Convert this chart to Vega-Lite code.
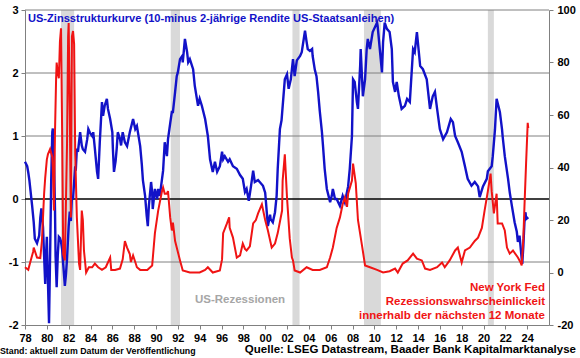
{
  "$schema": "https://vega.github.io/schema/vega-lite/v6.json",
  "width": 524,
  "height": 315,
  "autosize": {"type": "none"},
  "padding": {"left": 25, "top": 10, "right": 31, "bottom": 33},
  "background": "white",
  "config": {
    "view": {"stroke": null},
    "font": "Liberation Sans, Arial",
    "axisX": {"labelOverlap": false, "tickCount": 30}
  },
  "datasets": {
    "rec": [
      {"s": 1981.3, "e": 1982.5},
      {"s": 1991.35, "e": 1992.2},
      {"s": 2002.5, "e": 2003.15},
      {"s": 2009.05, "e": 2010.6},
      {"s": 2020.4, "e": 2020.95}
    ],
    "grid": [{"g": -1}, {"g": 1}, {"g": 2}, {"g": 3}],
    "blue": [
      {"t":1978.0,"v":0.59},{"t":1978.2,"v":0.52},{"t":1978.3,"v":0.42},{"t":1978.4,"v":0.3},{"t":1978.65,"v":-0.1},
      {"t":1978.8,"v":-0.37},{"t":1978.9,"v":-0.63},{"t":1979.1,"v":-0.7},{"t":1979.3,"v":-0.58},{"t":1979.4,"v":-0.3},
      {"t":1979.5,"v":-0.15},{"t":1979.65,"v":-0.45},{"t":1979.75,"v":-0.9},{"t":1979.85,"v":-1.35},{"t":1979.9,"v":-1.0},
      {"t":1980.0,"v":-0.6},{"t":1980.1,"v":-1.3},{"t":1980.2,"v":-1.97},{"t":1980.3,"v":-0.9},{"t":1980.4,"v":0.3},
      {"t":1980.5,"v":1.06},{"t":1980.55,"v":1.12},{"t":1980.65,"v":0.7},{"t":1980.75,"v":-0.2},{"t":1980.8,"v":-0.9},
      {"t":1980.9,"v":-1.4},{"t":1981.0,"v":-0.9},{"t":1981.1,"v":-0.6},{"t":1981.2,"v":-0.62},{"t":1981.3,"v":-0.68},
      {"t":1981.4,"v":-0.8},{"t":1981.55,"v":-1.15},{"t":1981.65,"v":-1.38},{"t":1981.75,"v":-1.2},{"t":1981.85,"v":-0.95},
      {"t":1981.95,"v":-0.6},{"t":1982.0,"v":-0.43},{"t":1982.1,"v":-0.2},{"t":1982.2,"v":-0.35},{"t":1982.3,"v":0.05},
      {"t":1982.4,"v":0.0},{"t":1982.5,"v":0.27},{"t":1982.6,"v":0.52},{"t":1982.65,"v":0.45},{"t":1982.75,"v":0.8},
      {"t":1982.85,"v":0.75},{"t":1983.05,"v":1.06},{"t":1983.2,"v":0.85},{"t":1983.3,"v":0.79},{"t":1983.5,"v":0.75},
      {"t":1983.7,"v":0.95},{"t":1983.8,"v":1.11},{"t":1983.95,"v":1.05},{"t":1984.15,"v":1.0},{"t":1984.25,"v":1.06},
      {"t":1984.4,"v":0.8},{"t":1984.6,"v":0.43},{"t":1984.7,"v":0.32},{"t":1984.85,"v":0.9},{"t":1985.05,"v":1.54},
      {"t":1985.15,"v":1.32},{"t":1985.3,"v":1.48},{"t":1985.5,"v":1.59},{"t":1985.6,"v":1.43},{"t":1985.8,"v":1.27},
      {"t":1986.0,"v":1.06},{"t":1986.05,"v":0.8},{"t":1986.15,"v":0.43},{"t":1986.3,"v":0.6},{"t":1986.4,"v":0.8},
      {"t":1986.5,"v":1.06},{"t":1986.7,"v":0.95},{"t":1986.8,"v":0.85},{"t":1986.95,"v":1.06},{"t":1987.15,"v":0.9},
      {"t":1987.35,"v":0.84},{"t":1987.6,"v":1.06},{"t":1987.9,"v":1.27},{"t":1988.1,"v":1.11},{"t":1988.25,"v":1.16},
      {"t":1988.55,"v":0.84},{"t":1988.7,"v":0.55},{"t":1988.8,"v":0.3},{"t":1989.0,"v":0.05},{"t":1989.15,"v":-0.27},
      {"t":1989.25,"v":-0.43},{"t":1989.35,"v":-0.1},{"t":1989.55,"v":0.27},{"t":1989.65,"v":0.1},{"t":1989.7,"v":-0.16},
      {"t":1989.9,"v":0.16},{"t":1990.1,"v":0.0},{"t":1990.2,"v":0.16},{"t":1990.35,"v":0.05},{"t":1990.65,"v":0.45},
      {"t":1990.8,"v":0.9},{"t":1991.0,"v":0.68},{"t":1991.1,"v":0.95},{"t":1991.3,"v":1.2},{"t":1991.45,"v":1.38},
      {"t":1991.55,"v":1.38},{"t":1991.75,"v":1.7},{"t":1991.9,"v":1.95},{"t":1992.0,"v":2.01},{"t":1992.2,"v":2.22},
      {"t":1992.4,"v":2.27},{"t":1992.45,"v":2.17},{"t":1992.65,"v":2.54},{"t":1992.85,"v":2.33},{"t":1992.95,"v":2.17},
      {"t":1993.1,"v":2.22},{"t":1993.4,"v":2.06},{"t":1993.55,"v":1.8},{"t":1993.85,"v":1.48},{"t":1994.0,"v":1.59},
      {"t":1994.2,"v":1.48},{"t":1994.5,"v":1.27},{"t":1994.75,"v":1.0},{"t":1994.95,"v":0.63},{"t":1995.2,"v":0.43},
      {"t":1995.4,"v":0.59},{"t":1995.6,"v":0.43},{"t":1995.85,"v":0.52},{"t":1996.05,"v":0.75},{"t":1996.15,"v":0.63},
      {"t":1996.3,"v":0.68},{"t":1996.6,"v":0.59},{"t":1996.75,"v":0.63},{"t":1997.05,"v":0.52},{"t":1997.4,"v":0.48},
      {"t":1997.7,"v":0.38},{"t":1997.95,"v":0.32},{"t":1998.15,"v":0.11},{"t":1998.3,"v":0.16},{"t":1998.5,"v":-0.03},
      {"t":1998.7,"v":0.2},{"t":1998.9,"v":0.45},{"t":1999.05,"v":0.27},{"t":1999.35,"v":0.3},{"t":1999.5,"v":0.27},
      {"t":1999.8,"v":0.21},{"t":2000.0,"v":0.1},{"t":2000.05,"v":0.0},{"t":2000.25,"v":-0.43},{"t":2000.45,"v":-0.25},
      {"t":2000.5,"v":-0.32},{"t":2000.7,"v":-0.37},{"t":2000.9,"v":-0.21},{"t":2001.05,"v":0.05},{"t":2001.15,"v":0.48},
      {"t":2001.35,"v":1.11},{"t":2001.5,"v":1.25},{"t":2001.8,"v":1.9},{"t":2002.0,"v":1.98},{"t":2002.15,"v":1.75},
      {"t":2002.35,"v":1.9},{"t":2002.55,"v":2.22},{"t":2002.7,"v":1.95},{"t":2002.9,"v":2.2},{"t":2003.2,"v":2.27},
      {"t":2003.35,"v":2.33},{"t":2003.65,"v":2.67},{"t":2003.8,"v":2.49},{"t":2003.9,"v":2.38},{"t":2004.1,"v":2.35},
      {"t":2004.3,"v":2.38},{"t":2004.35,"v":2.27},{"t":2004.55,"v":2.05},{"t":2004.7,"v":1.95},{"t":2004.85,"v":1.7},
      {"t":2005.0,"v":1.4},{"t":2005.2,"v":1.06},{"t":2005.3,"v":0.84},{"t":2005.45,"v":0.48},{"t":2005.65,"v":0.16},
      {"t":2005.95,"v":-0.05},{"t":2006.1,"v":0.05},{"t":2006.2,"v":0.16},{"t":2006.4,"v":0.0},{"t":2006.55,"v":0.0},
      {"t":2006.85,"v":-0.11},{"t":2007.1,"v":0.05},{"t":2007.3,"v":-0.05},{"t":2007.6,"v":0.2},{"t":2007.75,"v":0.48},
      {"t":2007.95,"v":1.0},{"t":2008.05,"v":1.9},{"t":2008.2,"v":1.86},{"t":2008.4,"v":1.54},{"t":2008.5,"v":1.43},
      {"t":2008.7,"v":2.11},{"t":2008.75,"v":2.38},{"t":2008.95,"v":1.63},{"t":2009.15,"v":1.9},{"t":2009.3,"v":2.38},
      {"t":2009.4,"v":2.54},{"t":2009.6,"v":2.38},{"t":2009.85,"v":2.65},{"t":2010.25,"v":2.8},{"t":2010.3,"v":2.75},
      {"t":2010.5,"v":2.38},{"t":2010.7,"v":2.01},{"t":2010.8,"v":2.49},{"t":2010.95,"v":2.8},{"t":2011.15,"v":2.7},
      {"t":2011.4,"v":2.65},{"t":2011.6,"v":2.38},{"t":2011.7,"v":1.86},{"t":2011.9,"v":1.7},{"t":2012.05,"v":1.86},
      {"t":2012.25,"v":1.63},{"t":2012.5,"v":1.43},{"t":2012.8,"v":1.48},{"t":2013.0,"v":1.59},{"t":2013.25,"v":1.54},
      {"t":2013.55,"v":2.38},{"t":2013.7,"v":2.33},{"t":2013.9,"v":2.65},{"t":2014.2,"v":2.11},{"t":2014.45,"v":2.06},
      {"t":2014.8,"v":1.9},{"t":2015.1,"v":1.43},{"t":2015.35,"v":1.63},{"t":2015.55,"v":1.7},{"t":2015.75,"v":1.43},
      {"t":2016.0,"v":1.11},{"t":2016.3,"v":0.95},{"t":2016.65,"v":1.06},{"t":2017.0,"v":1.27},{"t":2017.2,"v":1.22},
      {"t":2017.4,"v":1.0},{"t":2017.65,"v":0.9},{"t":2018.0,"v":0.75},{"t":2018.3,"v":0.52},{"t":2018.55,"v":0.32},
      {"t":2018.9,"v":0.21},{"t":2019.2,"v":0.27},{"t":2019.5,"v":0.2},{"t":2019.65,"v":0.03},{"t":2019.95,"v":0.2},
      {"t":2020.3,"v":0.32},{"t":2020.4,"v":0.44},{"t":2020.75,"v":0.52},{"t":2020.85,"v":0.68},{"t":2021.05,"v":1.1},
      {"t":2021.2,"v":1.59},{"t":2021.5,"v":1.38},{"t":2021.7,"v":1.1},{"t":2021.75,"v":1.0},{"t":2021.95,"v":0.68},
      {"t":2022.25,"v":0.32},{"t":2022.4,"v":0.11},{"t":2022.6,"v":-0.11},{"t":2022.85,"v":-0.37},{"t":2023.05,"v":-0.52},
      {"t":2023.15,"v":-0.68},{"t":2023.3,"v":-0.58},{"t":2023.5,"v":-0.95},{"t":2023.55,"v":-1.03},{"t":2023.65,"v":-0.75},
      {"t":2023.75,"v":-0.37},{"t":2023.85,"v":-0.21},{"t":2023.9,"v":-0.32},{"t":2024.1,"v":-0.29}
    ],
    "red": [
      {"t":1978.0,"p":2},{"t":1978.3,"p":1},{"t":1978.45,"p":3.4},{"t":1978.75,"p":8},{"t":1978.8,"p":9.5},
      {"t":1979.1,"p":5.7},{"t":1979.4,"p":5.5},{"t":1979.55,"p":12},{"t":1979.75,"p":30},{"t":1979.85,"p":36},
      {"t":1980.0,"p":43},{"t":1980.1,"p":45},{"t":1980.3,"p":47},{"t":1980.5,"p":44},{"t":1980.55,"p":40},
      {"t":1980.65,"p":23.6},{"t":1980.75,"p":54},{"t":1980.85,"p":74},{"t":1980.9,"p":80},{"t":1981.0,"p":76},
      {"t":1981.1,"p":74},{"t":1981.2,"p":88},{"t":1981.3,"p":93},{"t":1981.4,"p":55},{"t":1981.5,"p":7},
      {"t":1981.65,"p":4.6},{"t":1981.85,"p":49},{"t":1981.95,"p":90},{"t":1982.0,"p":95},{"t":1982.1,"p":62},
      {"t":1982.2,"p":21},{"t":1982.3,"p":90},{"t":1982.4,"p":92},{"t":1982.5,"p":87},{"t":1982.6,"p":45},
      {"t":1982.75,"p":21},{"t":1982.95,"p":3.4},{"t":1983.05,"p":1},{"t":1983.2,"p":23.6},{"t":1983.3,"p":20},
      {"t":1983.4,"p":8.4},{"t":1983.6,"p":0},{"t":1983.85,"p":2},{"t":1984.15,"p":2},{"t":1984.4,"p":3.4},
      {"t":1984.7,"p":2},{"t":1985.05,"p":1},{"t":1985.4,"p":2},{"t":1985.8,"p":5.7},{"t":1985.9,"p":1},
      {"t":1986.25,"p":1},{"t":1986.7,"p":1.5},{"t":1986.95,"p":5},{"t":1987.15,"p":12},{"t":1987.35,"p":9.5},
      {"t":1987.5,"p":8},{"t":1987.6,"p":7},{"t":1987.7,"p":4},{"t":1987.9,"p":6.5},{"t":1988.1,"p":4},
      {"t":1988.25,"p":2},{"t":1988.55,"p":1},{"t":1989.2,"p":1},{"t":1989.65,"p":2.7},{"t":1989.9,"p":15},
      {"t":1990.2,"p":23.6},{"t":1990.55,"p":31},{"t":1990.65,"p":32.4},{"t":1990.8,"p":30},{"t":1991.0,"p":30},
      {"t":1991.1,"p":31},{"t":1991.3,"p":21},{"t":1991.45,"p":16},{"t":1991.55,"p":19},{"t":1991.75,"p":12},
      {"t":1991.9,"p":9.5},{"t":1992.2,"p":4.6},{"t":1992.45,"p":0.8},{"t":1993.1,"p":0},{"t":1994.0,"p":0},
      {"t":1994.5,"p":1},{"t":1994.75,"p":2},{"t":1995.2,"p":0},{"t":1995.85,"p":0.8},{"t":1996.05,"p":5},
      {"t":1996.15,"p":15},{"t":1996.5,"p":18.7},{"t":1996.7,"p":21},{"t":1996.75,"p":17},{"t":1997.05,"p":13.3},
      {"t":1997.4,"p":5.7},{"t":1997.7,"p":6.5},{"t":1997.95,"p":11},{"t":1998.15,"p":9},{"t":1998.3,"p":8.4},
      {"t":1998.6,"p":10},{"t":1998.9,"p":18.7},{"t":1999.15,"p":20},{"t":1999.35,"p":22.5},{"t":1999.7,"p":26},
      {"t":2000.0,"p":20},{"t":2000.25,"p":16},{"t":2000.6,"p":9.5},{"t":2000.9,"p":11},{"t":2001.15,"p":15},
      {"t":2001.55,"p":23.6},{"t":2001.6,"p":35},{"t":2001.8,"p":45},{"t":2002.0,"p":28.6},{"t":2002.25,"p":13},
      {"t":2002.45,"p":5.7},{"t":2002.55,"p":4.6},{"t":2002.7,"p":0.8},{"t":2003.2,"p":0},{"t":2003.8,"p":2},
      {"t":2004.35,"p":1},{"t":2005.0,"p":1},{"t":2005.65,"p":2},{"t":2005.95,"p":5.7},{"t":2006.2,"p":9.5},
      {"t":2006.55,"p":17},{"t":2006.85,"p":21},{"t":2007.1,"p":26},{"t":2007.3,"p":28.6},{"t":2007.5,"p":25},
      {"t":2007.6,"p":30},{"t":2007.95,"p":35},{"t":2008.05,"p":41.5},{"t":2008.3,"p":34},{"t":2008.5,"p":20},
      {"t":2008.9,"p":9.5},{"t":2009.15,"p":2.7},{"t":2009.6,"p":2},{"t":2010.25,"p":1},{"t":2010.8,"p":0},
      {"t":2011.4,"p":0.5},{"t":2011.9,"p":1.5},{"t":2012.15,"p":0},{"t":2012.6,"p":3.4},{"t":2013.05,"p":4.6},
      {"t":2013.55,"p":7.2},{"t":2013.9,"p":5.3},{"t":2014.35,"p":4.6},{"t":2014.65,"p":1.5},{"t":2015.1,"p":1},
      {"t":2015.75,"p":2},{"t":2016.2,"p":3.8},{"t":2016.45,"p":2},{"t":2016.9,"p":4.6},{"t":2017.4,"p":8.4},
      {"t":2017.65,"p":9.5},{"t":2018.0,"p":3.8},{"t":2018.3,"p":8.4},{"t":2018.75,"p":9.5},{"t":2019.2,"p":12},
      {"t":2019.5,"p":13.3},{"t":2019.85,"p":17},{"t":2020.1,"p":23.6},{"t":2020.4,"p":31},{"t":2020.65,"p":37.7},
      {"t":2020.75,"p":31},{"t":2020.95,"p":22.5},{"t":2021.2,"p":30},{"t":2021.3,"p":18.7},{"t":2021.7,"p":18.7},
      {"t":2021.95,"p":16},{"t":2022.15,"p":9.5},{"t":2022.4,"p":7.2},{"t":2022.7,"p":8.4},{"t":2023.15,"p":5.7},
      {"t":2023.4,"p":3.8},{"t":2023.5,"p":2.7},{"t":2023.65,"p":13},{"t":2023.75,"p":25},{"t":2023.9,"p":41.5},
      {"t":2024.05,"p":57},{"t":2024.1,"p":55}
    ],
    "tTitle": [{"x": 1978.27, "y": 2.857, "label": "US-Zinsstrukturkurve (10-minus 2-jährige Rendite US-Staatsanleihen)"}],
    "tRec": [{"x": 1993.57, "y": -1.603, "label": "US-Rezessionen"}],
    "tRed": [
      {"x": 2025.63, "y": -1.42, "label": "New York Fed"},
      {"x": 2025.63, "y": -1.635, "label": "Rezessionswahrscheinlickeit"},
      {"x": 2025.63, "y": -1.85, "label": "innerhalb der nächsten 12 Monate"}
    ],
    "tStand": [{"x": 1975.71, "y": -2.413, "label": "Stand: aktuell zum Datum der Veröffentlichung"}],
    "tQuelle": [{"x": 2028.47, "y": -2.397, "label": "Quelle: LSEG Datastream,  Baader Bank Kapitalmarktanalyse"}]
  },
  "layer": [
    {
      "data": {"name": "rec"},
      "mark": {"type": "rect", "color": "#d9d9d9"},
      "encoding": {
        "x": {"field": "s", "type": "quantitative", "scale": {"domain": [1978, 2026], "nice": false, "zero": false},
          "axis": {"values": [1978,1980,1982,1984,1986,1988,1990,1992,1994,1996,1998,2000,2002,2004,2006,2008,2010,2012,2014,2016,2018,2020,2022,2024],
            "tickCount": 30, "labelExpr": "substring(toString(datum.value), 2)", "title": null, "labelOverlap": false,
            "grid": false, "domainColor": "#808080", "tickColor": "#808080", "tickSize": 4,
            "labelFontSize": 11, "labelFontWeight": "bold", "labelColor": "black", "labelPadding": 3, "labelFlush": false}},
        "x2": {"field": "e"}
      }
    },
    {
      "data": {"name": "grid"},
      "mark": {"type": "rule", "color": "#808080", "strokeWidth": 1},
      "encoding": {
        "y": {"field": "g", "type": "quantitative", "scale": {"domain": [-2, 3], "nice": false}, "axis": null}
      }
    },
    {
      "data": {"values": [{"z": 0}]},
      "mark": {"type": "rule", "color": "black", "strokeWidth": 1.5},
      "encoding": {
        "y": {"field": "z", "type": "quantitative", "scale": {"domain": [-2, 3], "nice": false}, "axis": null}
      }
    },
    {
      "data": {"name": "blue"},
      "mark": {"type": "line", "color": "#1212c8", "strokeWidth": 2.4},
      "encoding": {
        "x": {"field": "t", "type": "quantitative", "axis": {"title": null, "tickCount": 30, "labelOverlap": false}},
        "y": {"field": "v", "type": "quantitative", "scale": {"domain": [-2, 3], "nice": false},
          "axis": {"orient": "left", "values": [-2,-1,0,1,2,3], "labelExpr": "toString(datum.value)", "title": null, "grid": false,
            "domainColor": "#808080", "tickColor": "#808080", "tickSize": 4, "labelFontSize": 11, "labelFontWeight": "bold",
            "labelColor": "black", "labelPadding": 3, "labelFlush": false}}
      }
    },
    {
      "data": {"name": "red"},
      "mark": {"type": "line", "color": "#f01414", "strokeWidth": 2},
      "encoding": {
        "x": {"field": "t", "type": "quantitative", "axis": {"title": null, "tickCount": 30, "labelOverlap": false}},
        "y": {"field": "p", "type": "quantitative", "scale": {"domain": [-20, 100], "nice": false},
          "axis": {"orient": "right", "values": [-20,0,20,40,60,80,100], "labelExpr": "toString(datum.value)", "title": null, "grid": false,
            "domainColor": "#808080", "tickColor": "#808080", "tickSize": 4, "labelFontSize": 11, "labelFontWeight": "bold",
            "labelColor": "black", "labelPadding": 4, "labelFlush": false}}
      }
    },
    {
      "data": {"name": "tTitle"},
      "mark": {"type": "text", "align": "left", "baseline": "middle", "fontSize": 11.1, "fontWeight": "bold", "color": "#1212c8"},
      "encoding": {
        "x": {"field": "x", "type": "quantitative", "axis": {"title": null, "tickCount": 30, "labelOverlap": false}},
        "y": {"field": "y", "type": "quantitative", "scale": {"domain": [-2, 3], "nice": false}, "axis": null},
        "text": {"field": "label"}
      }
    },
    {
      "data": {"name": "tRec"},
      "mark": {"type": "text", "align": "left", "baseline": "middle", "fontSize": 11.5, "fontWeight": "bold", "color": "#a6a6a6"},
      "encoding": {
        "x": {"field": "x", "type": "quantitative", "axis": {"title": null, "tickCount": 30, "labelOverlap": false}},
        "y": {"field": "y", "type": "quantitative", "scale": {"domain": [-2, 3], "nice": false}, "axis": null},
        "text": {"field": "label"}
      }
    },
    {
      "data": {"name": "tRed"},
      "mark": {"type": "text", "align": "right", "baseline": "middle", "fontSize": 11.5, "fontWeight": "bold", "color": "#f01414"},
      "encoding": {
        "x": {"field": "x", "type": "quantitative", "axis": {"title": null, "tickCount": 30, "labelOverlap": false}},
        "y": {"field": "y", "type": "quantitative", "scale": {"domain": [-2, 3], "nice": false}, "axis": null},
        "text": {"field": "label"}
      }
    },
    {
      "data": {"name": "tStand"},
      "mark": {"type": "text", "align": "left", "baseline": "middle", "fontSize": 8.8, "fontWeight": "bold", "color": "black"},
      "encoding": {
        "x": {"field": "x", "type": "quantitative", "axis": {"title": null, "tickCount": 30, "labelOverlap": false}},
        "y": {"field": "y", "type": "quantitative", "scale": {"domain": [-2, 3], "nice": false}, "axis": null},
        "text": {"field": "label"}
      }
    },
    {
      "data": {"name": "tQuelle"},
      "mark": {"type": "text", "align": "right", "baseline": "middle", "fontSize": 11.5, "fontWeight": "bold", "color": "black"},
      "encoding": {
        "x": {"field": "x", "type": "quantitative", "axis": {"title": null, "tickCount": 30, "labelOverlap": false}},
        "y": {"field": "y", "type": "quantitative", "scale": {"domain": [-2, 3], "nice": false}, "axis": null},
        "text": {"field": "label"}
      }
    }
  ],
  "resolve": {"scale": {"y": "independent"}, "axis": {"y": "independent"}}
}
